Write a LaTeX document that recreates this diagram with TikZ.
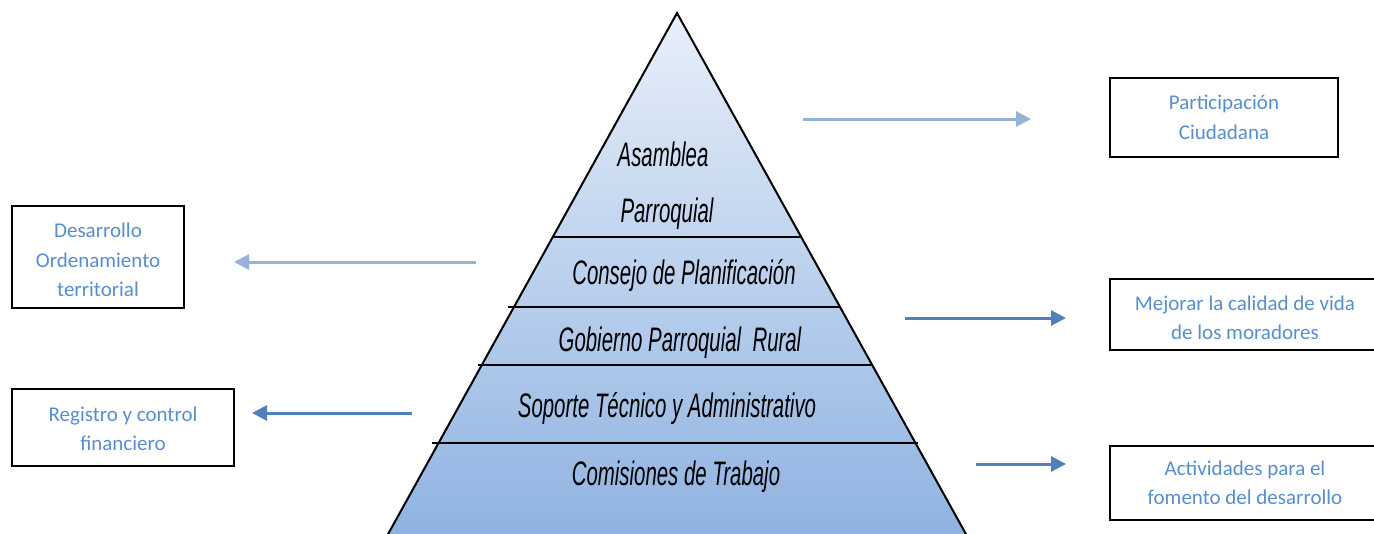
\documentclass[tikz,border=0pt]{standalone}
\usepackage{fontspec}
\setmainfont{Carlito}
\newfontfamily\agency[FakeStretch=0.6]{Liberation Sans}
\usetikzlibrary{arrows.meta}
\definecolor{boxtext}{RGB}{85,142,213}
\definecolor{arrlight}{RGB}{149,179,215}
\definecolor{arrdark}{RGB}{79,129,189}
\definecolor{pyrtop}{RGB}{232,239,249}
\definecolor{pyrbot}{RGB}{141,178,225}
\tikzset{
  infobox/.style={draw=black, line width=2pt, align=center, text=boxtext,
    font=\fontsize{21}{29.5}\selectfont, inner sep=0pt},
  layertext/.style={font=\agency\itshape\fontsize{34}{60}\selectfont, inner sep=0pt, anchor=center},
  layerline/.style={line width=2pt, black},
  lightarrow/.style={line width=3pt, arrlight, -{Triangle[length=15pt,width=15pt]}},
  darkarrow/.style={line width=3pt, arrdark, -{Triangle[length=15pt,width=15pt]}},
}
\begin{document}
\begin{tikzpicture}[x=1pt,y=-1pt]
\useasboundingbox (0,0) rectangle (1374,533);
% pyramid
\shade[top color=pyrtop, bottom color=pyrbot] (677,13) -- (972,545) -- (382,545) -- cycle;
\draw[line width=2pt] (382,545) -- (677,13) -- (972,545);
\draw[layerline] (553,237) -- (801,237);
\draw[layerline] (508,307) -- (840,307);
\draw[layerline] (478,365) -- (871,365);
\draw[layerline] (432,443) -- (918,443);
% layer texts
\node[layertext] (asam) at (663,154) {Asamblea};
\node[layertext] (parr) at (667,214) {Parroquial};
\node[layertext] (cons) at (684,276) {Consejo de Planificación};
\node[layertext] (gob) at (680,343) {Gobierno Parroquial\ \ Rural};
\node[layertext] (sop) at (667,409) {Soporte Técnico y Administrativo};
\node[layertext] (com) at (676,477) {Comisiones de Trabajo};
% boxes
\node[infobox, minimum width=228pt, minimum height=79pt] (part) at (1224,117.5) {Participación\\Ciudadana};
\node[infobox, minimum width=270pt, minimum height=71pt] (mej) at (1245,314.5) {\parbox{260pt}{\vspace*{7pt}\centering Mejorar la calidad de vida\\de los moradores}};
\node[infobox, minimum width=270pt, minimum height=74pt] (act) at (1245,483) {Actividades para el\\fomento del desarrollo};
\node[infobox, minimum width=172pt, minimum height=102pt] (des) at (98,257) {\parbox{165pt}{\vspace*{6pt}\centering Desarrollo\\Ordenamiento\\territorial}};
\node[infobox, minimum width=222pt, minimum height=77pt] (reg) at (123,427.5) {\parbox{215pt}{\vspace*{3pt}\centering Registro y control\\financiero}};
% arrows
\coordinate (a1s) at (803,119); \coordinate (a1e) at (1031,119);
\coordinate (a2s) at (476,262); \coordinate (a2e) at (234,262);
\coordinate (a3s) at (905,318); \coordinate (a3e) at (1066,318);
\coordinate (a4s) at (412,413); \coordinate (a4e) at (252,413);
\coordinate (a5s) at (976,464); \coordinate (a5e) at (1066,464);
\draw[lightarrow] (a1s) -- (a1e);
\draw[lightarrow] (a2s) -- (a2e);
\draw[darkarrow] (a3s) -- (a3e);
\draw[darkarrow] (a4s) -- (a4e);
\draw[darkarrow] (a5s) -- (a5e);
\end{tikzpicture}
\end{document}
